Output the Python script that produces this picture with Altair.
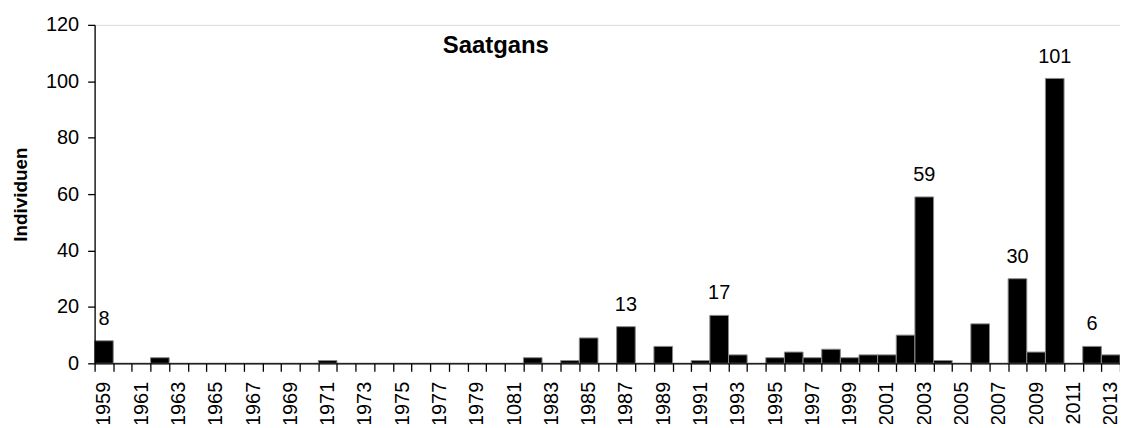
import altair as alt
import pandas as pd

# Category labels as printed on the chart (the original prints "1081" for 1981)
years = ["1959", "1960", "1961", "1962", "1963", "1964", "1965", "1966", "1967",
         "1968", "1969", "1970", "1971", "1972", "1973", "1974", "1975", "1976",
         "1977", "1978", "1979", "1980", "1081", "1982", "1983", "1984", "1985",
         "1986", "1987", "1988", "1989", "1990", "1991", "1992", "1993", "1994",
         "1995", "1996", "1997", "1998", "1999", "2000", "2001", "2002", "2003",
         "2004", "2005", "2006", "2007", "2008", "2009", "2010", "2011", "2012",
         "2013"]
counts = [8, 0, 0, 2, 0, 0, 0, 0, 0, 0, 0, 0, 1, 0, 0, 0, 0, 0, 0, 0, 0, 0, 0,
          2, 0, 1, 9, 0, 13, 0, 6, 0, 1, 17, 3, 0, 2, 4, 2, 5, 2, 3, 3, 10, 59,
          1, 0, 14, 0, 30, 4, 101, 0, 6, 3]
labelled_years = ["1959", "1987", "1992", "2003", "2008", "2010", "2012"]
y_ticks = [0, 20, 40, 60, 80, 100, 120]
title_text = ["Saatgans"]

df = pd.DataFrame({"Jahr": years, "Individuen": counts})
df["Label"] = [str(c) if y in labelled_years else "" for y, c in zip(years, counts)]
title_df = pd.DataFrame({"t": title_text})

FONT = "Liberation Sans"

x_enc = alt.X(
    "Jahr:N",
    sort=None,
    scale=alt.Scale(paddingInner=0, paddingOuter=0),
    axis=alt.Axis(
        title=None,
        labelAngle=-90,
        labelExpr="toNumber(datum.value) % 2 == 1 ? datum.label : ''",
        tickBand="extent",
        tickSize=8,
        tickColor="black",
        tickWidth=1.3,
        domainColor="black",
        domainWidth=1.3,
        labelPadding=10,
        labelFontSize=20,
        labelFont=FONT,
        labelColor="black",
        zindex=2,
    ),
)
y_enc = alt.Y(
    "Individuen:Q",
    scale=alt.Scale(domain=[0, 120], nice=False),
    axis=alt.Axis(
        values=y_ticks,
        title="Individuen",
        grid=False,
        tickSize=7,
        tickColor="black",
        tickWidth=1.3,
        domainColor="black",
        domainWidth=1.3,
        labelPadding=9,
        labelFontSize=20,
        labelFont=FONT,
        labelColor="black",
        titleFont=FONT,
        titleFontSize=19,
        titleFontWeight="bold",
        titleColor="black",
        titlePadding=15,
        zindex=2,
    ),
)

bars = alt.Chart(df).mark_bar(color="black", stroke="#8a8a8a", strokeWidth=1).encode(
    x=x_enc, y=y_enc
)

labels = alt.Chart(df).transform_filter("datum.Label != ''").mark_text(
    dy=-16, baseline="alphabetic", align="center", fontSize=20, font=FONT, color="black"
).encode(x=alt.X("Jahr:N", sort=None), y="Individuen:Q", text="Label:N")

title = alt.Chart(title_df).mark_text(
    baseline="alphabetic", align="center", fontSize=24, font=FONT,
    fontWeight="bold", color="black"
).encode(x=alt.value(403), y=alt.value(28), text="t:N")

chart = (
    alt.layer(bars, labels, title)
    .properties(
        width=1030,
        height=340,
        autosize=alt.AutoSizeParams(type="none"),
        padding={"left": 87, "top": 16, "right": 0, "bottom": 60},
    )
    .configure_view(stroke=None)
    .configure(background="white")
)

chart.save("out.html", embed_options={"renderer": "svg", "actions": False})
